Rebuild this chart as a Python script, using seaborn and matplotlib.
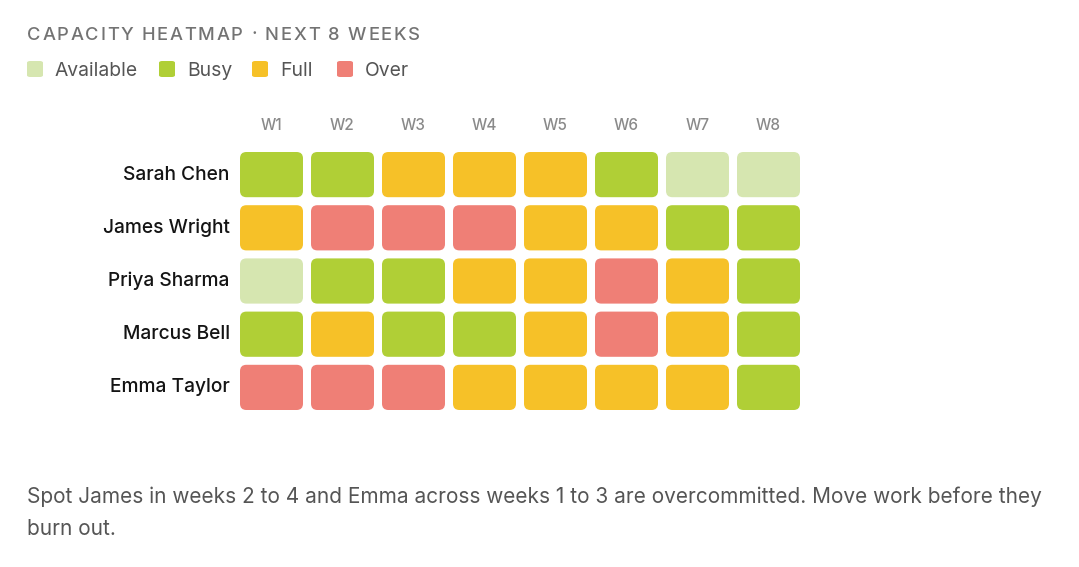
import numpy as np
import pandas as pd
import matplotlib
matplotlib.use("Agg")
import matplotlib.pyplot as plt
import seaborn as sns
from matplotlib.colors import ListedColormap
from matplotlib.patches import FancyBboxPatch
from matplotlib.font_manager import FontProperties

# ---- data ----
people = ["Sarah Chen", "James Wright", "Priya Sharma", "Marcus Bell", "Emma Taylor"]
weeks = ["W1", "W2", "W3", "W4", "W5", "W6", "W7", "W8"]
levels = ["Available", "Busy", "Full", "Over"]
sarah = [1, 1, 2, 2, 2, 1, 0, 0]
james = [2, 3, 3, 3, 2, 2, 1, 1]
priya = [0, 1, 1, 2, 2, 3, 2, 1]
marcus = [1, 2, 1, 1, 2, 3, 2, 1]
emma = [3, 3, 3, 2, 2, 2, 2, 1]
title = "CAPACITY HEATMAP · NEXT 8 WEEKS"
note = ("Spot James in weeks 2 to 4 and Emma across weeks 1 to 3 are overcommitted. "
        "Move work before they\nburn out.")

colors = ["#d6e6b0", "#b0cf36", "#f6c128", "#ef7f76"]

df = pd.DataFrame([sarah, james, priya, marcus, emma], index=people, columns=weeks)

sns.set_theme(style="white")
plt.rcParams["font.family"] = ["Inter", "DejaVu Sans"]

W, H = 1079, 567
fig = plt.figure(figsize=(W / 100, H / 100), dpi=100)
ax = fig.add_axes([236 / W, 1 - 414 / H, 568 / W, 266 / H])
cmap = ListedColormap(colors)
sns.heatmap(df, ax=ax, cmap=cmap, vmin=-0.5, vmax=3.5, cbar=False,
            linewidths=0, square=False)
ax.collections[0].set_visible(False)

padx, pady = 4 / 71, 4 / 53.2
for r, person in enumerate(people):
    for c, wk in enumerate(weeks):
        v = df.loc[person, wk]
        box = FancyBboxPatch((c + padx, r + pady), 1 - 2 * padx, 1 - 2 * pady,
                             boxstyle="round,pad=0,rounding_size=0.09",
                             mutation_aspect=71 / 53.2,
                             facecolor=colors[v], edgecolor="none")
        ax.add_patch(box)

ax.xaxis.tick_top()
ax.set_xticks(np.arange(len(weeks)) + 0.5)
ax.set_xticklabels(weeks, fontsize=11, color="#8a8a8a", fontweight="medium")
ax.set_yticks(np.arange(len(people)) + 0.5)
ax.set_yticklabels(people, fontsize=13.8, color="#141414", fontweight="medium", rotation=0)
ax.tick_params(axis="x", length=0, pad=10.5)
ax.tick_params(axis="y", length=0, pad=4.5)
ax.set_xlabel("")
ax.set_ylabel("")
for s in ax.spines.values():
    s.set_visible(False)

# title with letter spacing
renderer = fig.canvas.get_renderer()
tprop = FontProperties(family=["Inter", "DejaVu Sans"], size=13.2, weight="medium")

def text_w(s):
    w, _, _ = renderer.get_text_width_height_descent(s + "H", tprop, ismath=False)
    w0, _, _ = renderer.get_text_width_height_descent("H", tprop, ismath=False)
    return w - w0

natural = text_w(title[:-1]) + renderer.get_text_width_height_descent(title[-1], tprop, ismath=False)[0]
target = 420 - 27
spacing = (target - natural) / (len(title) - 1)
for i, ch in enumerate(title):
    if ch == " ":
        continue
    x = 27 + text_w(title[:i]) + i * spacing
    fig.text(x / W, 1 - 35 / H, ch, fontproperties=tprop, color="#737373",
             va="center", ha="left")

# legend
lx = [27, 159, 252, 337]
for x0, lab, col in zip(lx, levels, colors):
    fig.patches.append(FancyBboxPatch((x0 / W, 1 - 77 / H), 16 / W, 16 / H,
                                      boxstyle="round,pad=0,rounding_size=0.003",
                                      transform=fig.transFigure, facecolor=col,
                                      edgecolor="none", figure=fig))
    fig.text((x0 + 28) / W, 1 - 70.5 / H, lab, fontsize=13.9, color="#555555",
             va="center", ha="left")

for k, line in enumerate(note.split("\n")):
    fig.text(27 / W, 1 - (497 + 32 * k) / H, line, fontsize=15, color="#555555",
             va="center", ha="left")

fig.savefig("out.png", dpi=100, facecolor="white")
